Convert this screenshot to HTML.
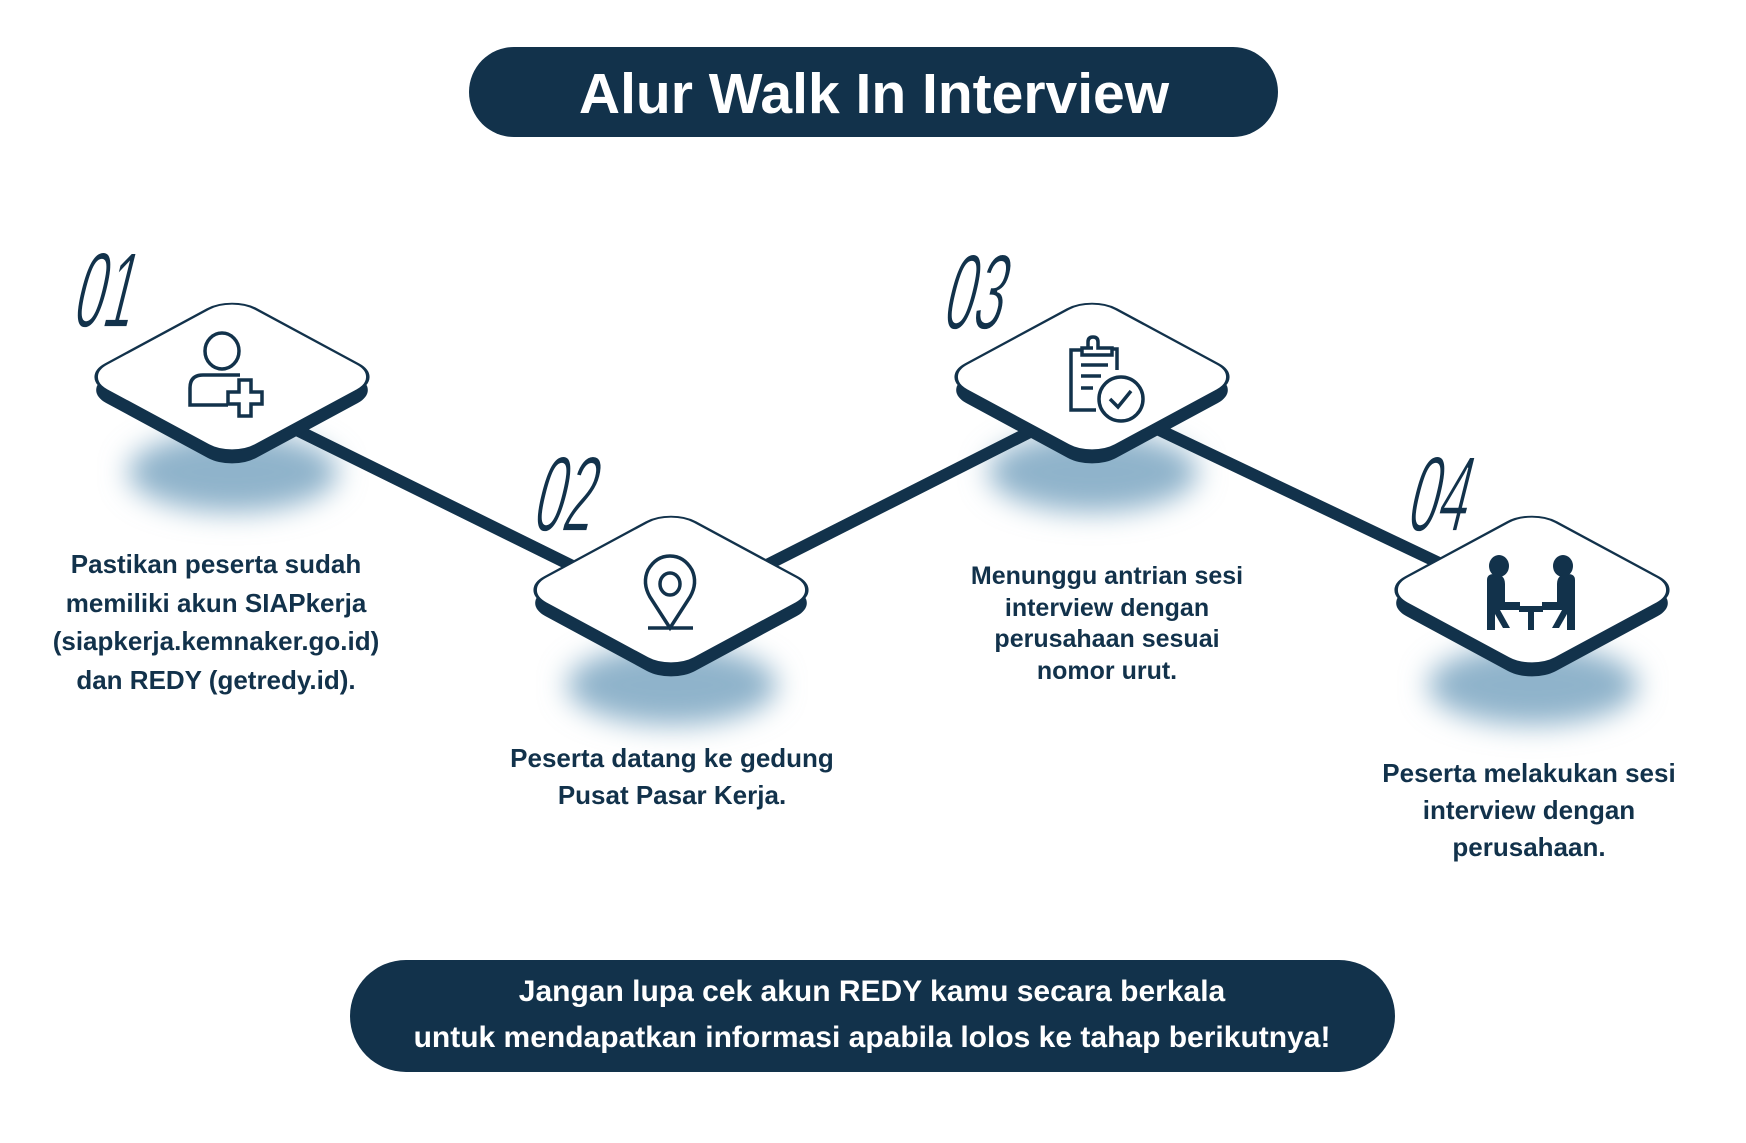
<!DOCTYPE html>
<html><head><meta charset="utf-8"><style>
html,body{margin:0;padding:0;background:#fff;}
body{width:1746px;height:1143px;position:relative;overflow:hidden;font-family:"Liberation Sans",sans-serif;color:#12324b;}
.t{position:absolute;text-align:center;font-weight:bold;transform:translateX(-50%);white-space:nowrap;}
</style></head><body>
<svg width="1746" height="1143" style="position:absolute;left:0;top:0">
<defs>
<filter id="bl" x="-50%" y="-50%" width="200%" height="200%"><feGaussianBlur stdDeviation="14"/></filter>
<g id="dia"><rect x="-106" y="-106" width="212" height="212" rx="34"/></g>
</defs>
<rect x="469" y="47" width="809" height="90" rx="45" fill="#12324b"/>
<text x="874" y="113" font-family="Liberation Sans" font-weight="bold" font-size="57" fill="#fff" text-anchor="middle">Alur Walk In Interview</text>
<rect x="350" y="960" width="1045" height="112" rx="56" fill="#12324b"/>
<text x="872" y="1001" font-family="Liberation Sans" font-weight="bold" font-size="30" fill="#fff" text-anchor="middle">Jangan lupa cek akun REDY kamu secara berkala</text>
<text x="872" y="1047" font-family="Liberation Sans" font-weight="bold" font-size="30" fill="#fff" text-anchor="middle">untuk mendapatkan informasi apabila lolos ke tahap berikutnya!</text>
<g fill="#8fb3cb" filter="url(#bl)">
<ellipse cx="233" cy="472" rx="105" ry="40"/>
<ellipse cx="672" cy="685" rx="105" ry="40"/>
<ellipse cx="1093" cy="472" rx="105" ry="40"/>
<ellipse cx="1533" cy="685" rx="105" ry="40"/>
</g>
<g stroke="#12324b" stroke-width="12" stroke-linecap="butt">
<line x1="240" y1="402" x2="680" y2="619"/>
<line x1="670" y1="614" x2="1095" y2="399"/>
<line x1="1090" y1="397" x2="1540" y2="611"/>
</g>
<g fill="#12324b">
<use href="#dia" transform="translate(232,390) scale(1,0.54) rotate(45)"/>
<use href="#dia" transform="translate(671,603) scale(1,0.54) rotate(45)"/>
<use href="#dia" transform="translate(1092,390) scale(1,0.54) rotate(45)"/>
<use href="#dia" transform="translate(1532,603) scale(1,0.54) rotate(45)"/>
</g>
<g fill="#fff" stroke="#12324b" stroke-width="3.5">
<use href="#dia" transform="translate(232,377) scale(1,0.54) rotate(45)"/>
<use href="#dia" transform="translate(671,590) scale(1,0.54) rotate(45)"/>
<use href="#dia" transform="translate(1092,377) scale(1,0.54) rotate(45)"/>
<use href="#dia" transform="translate(1532,590) scale(1,0.54) rotate(45)"/>
</g>
<g fill="none" stroke="#12324b" stroke-width="3.5">
<ellipse cx="222" cy="351" rx="17" ry="18"/>
<path d="M240 375 H203 Q190 375 190 388 V405 H228"/>
<path d="M239 380 H251 V392 H262 V404 H251 V416 H239 V404 H228 V392 H239 Z"/>
<path d="M670 628 L650 597 Q642 583 648 570 Q656 556 670 556 Q684 556 692 570 Q698 583 690 597 Z"/>
<ellipse cx="670" cy="584" rx="10" ry="11"/>
<line x1="648" y1="628" x2="693" y2="628"/>
<path d="M1083 350 H1071 V410 H1096"/>
<path d="M1093 348 H1088 V342 Q1088 337 1093 337 Q1098 337 1098 342 V348 H1112 V355 H1082 V348 Z"/>
<path d="M1112 349 H1117 V370"/>
<line x1="1081" y1="365" x2="1108" y2="365"/>
<line x1="1081" y1="376" x2="1101" y2="376"/>
<line x1="1081" y1="388" x2="1093" y2="388"/>
<circle cx="1121" cy="399" r="22"/>
<path d="M1110 399 L1118 407 L1131 391"/>
</g>
<g fill="#12324b">
<ellipse cx="1499" cy="566" rx="10" ry="11"/>
<ellipse cx="1563" cy="566" rx="10" ry="11"/>
<path d="M1487 580 Q1487 574 1494 574 Q1505 574 1505 584 V602 H1520 V610 H1500 L1510 628 H1503 L1495 614 V630 H1487 Z"/>
<path d="M1575 580 Q1575 574 1568 574 Q1557 574 1557 584 V602 H1542 V610 H1562 L1552 628 H1559 L1567 614 V630 H1575 Z"/>
<rect x="1519" y="606" width="24" height="6"/>
<rect x="1528" y="612" width="6" height="18"/>
</g>
<g font-family="Liberation Sans" font-size="74" fill="#12324b" stroke="#fff" stroke-width="1.2">
<text x="0" y="0" transform="translate(70,327) skewX(-14) scale(0.72,1.45)">01</text>
<text x="0" y="0" transform="translate(530,531) skewX(-14) scale(0.72,1.45)">02</text>
<text x="0" y="0" transform="translate(940,329) skewX(-14) scale(0.72,1.45)">03</text>
<text x="0" y="0" transform="translate(1404,531) skewX(-14) scale(0.72,1.45)">04</text>
</g>
</svg>
<div class="t" style="left:216px;top:545px;font-size:26px;line-height:38.5px;">Pastikan peserta sudah<br>memiliki akun SIAPkerja<br>(siapkerja.kemnaker.go.id)<br>dan REDY (getredy.id).</div>
<div class="t" style="left:672px;top:740px;font-size:26px;line-height:37px;">Peserta datang ke gedung<br>Pusat Pasar Kerja.</div>
<div class="t" style="left:1107px;top:561px;font-size:25px;line-height:31.5px;">Menunggu antrian sesi<br>interview dengan<br>perusahaan sesuai<br>nomor urut.</div>
<div class="t" style="left:1529px;top:755px;font-size:26px;line-height:37px;">Peserta melakukan sesi<br>interview dengan<br>perusahaan.</div>
</body></html>
